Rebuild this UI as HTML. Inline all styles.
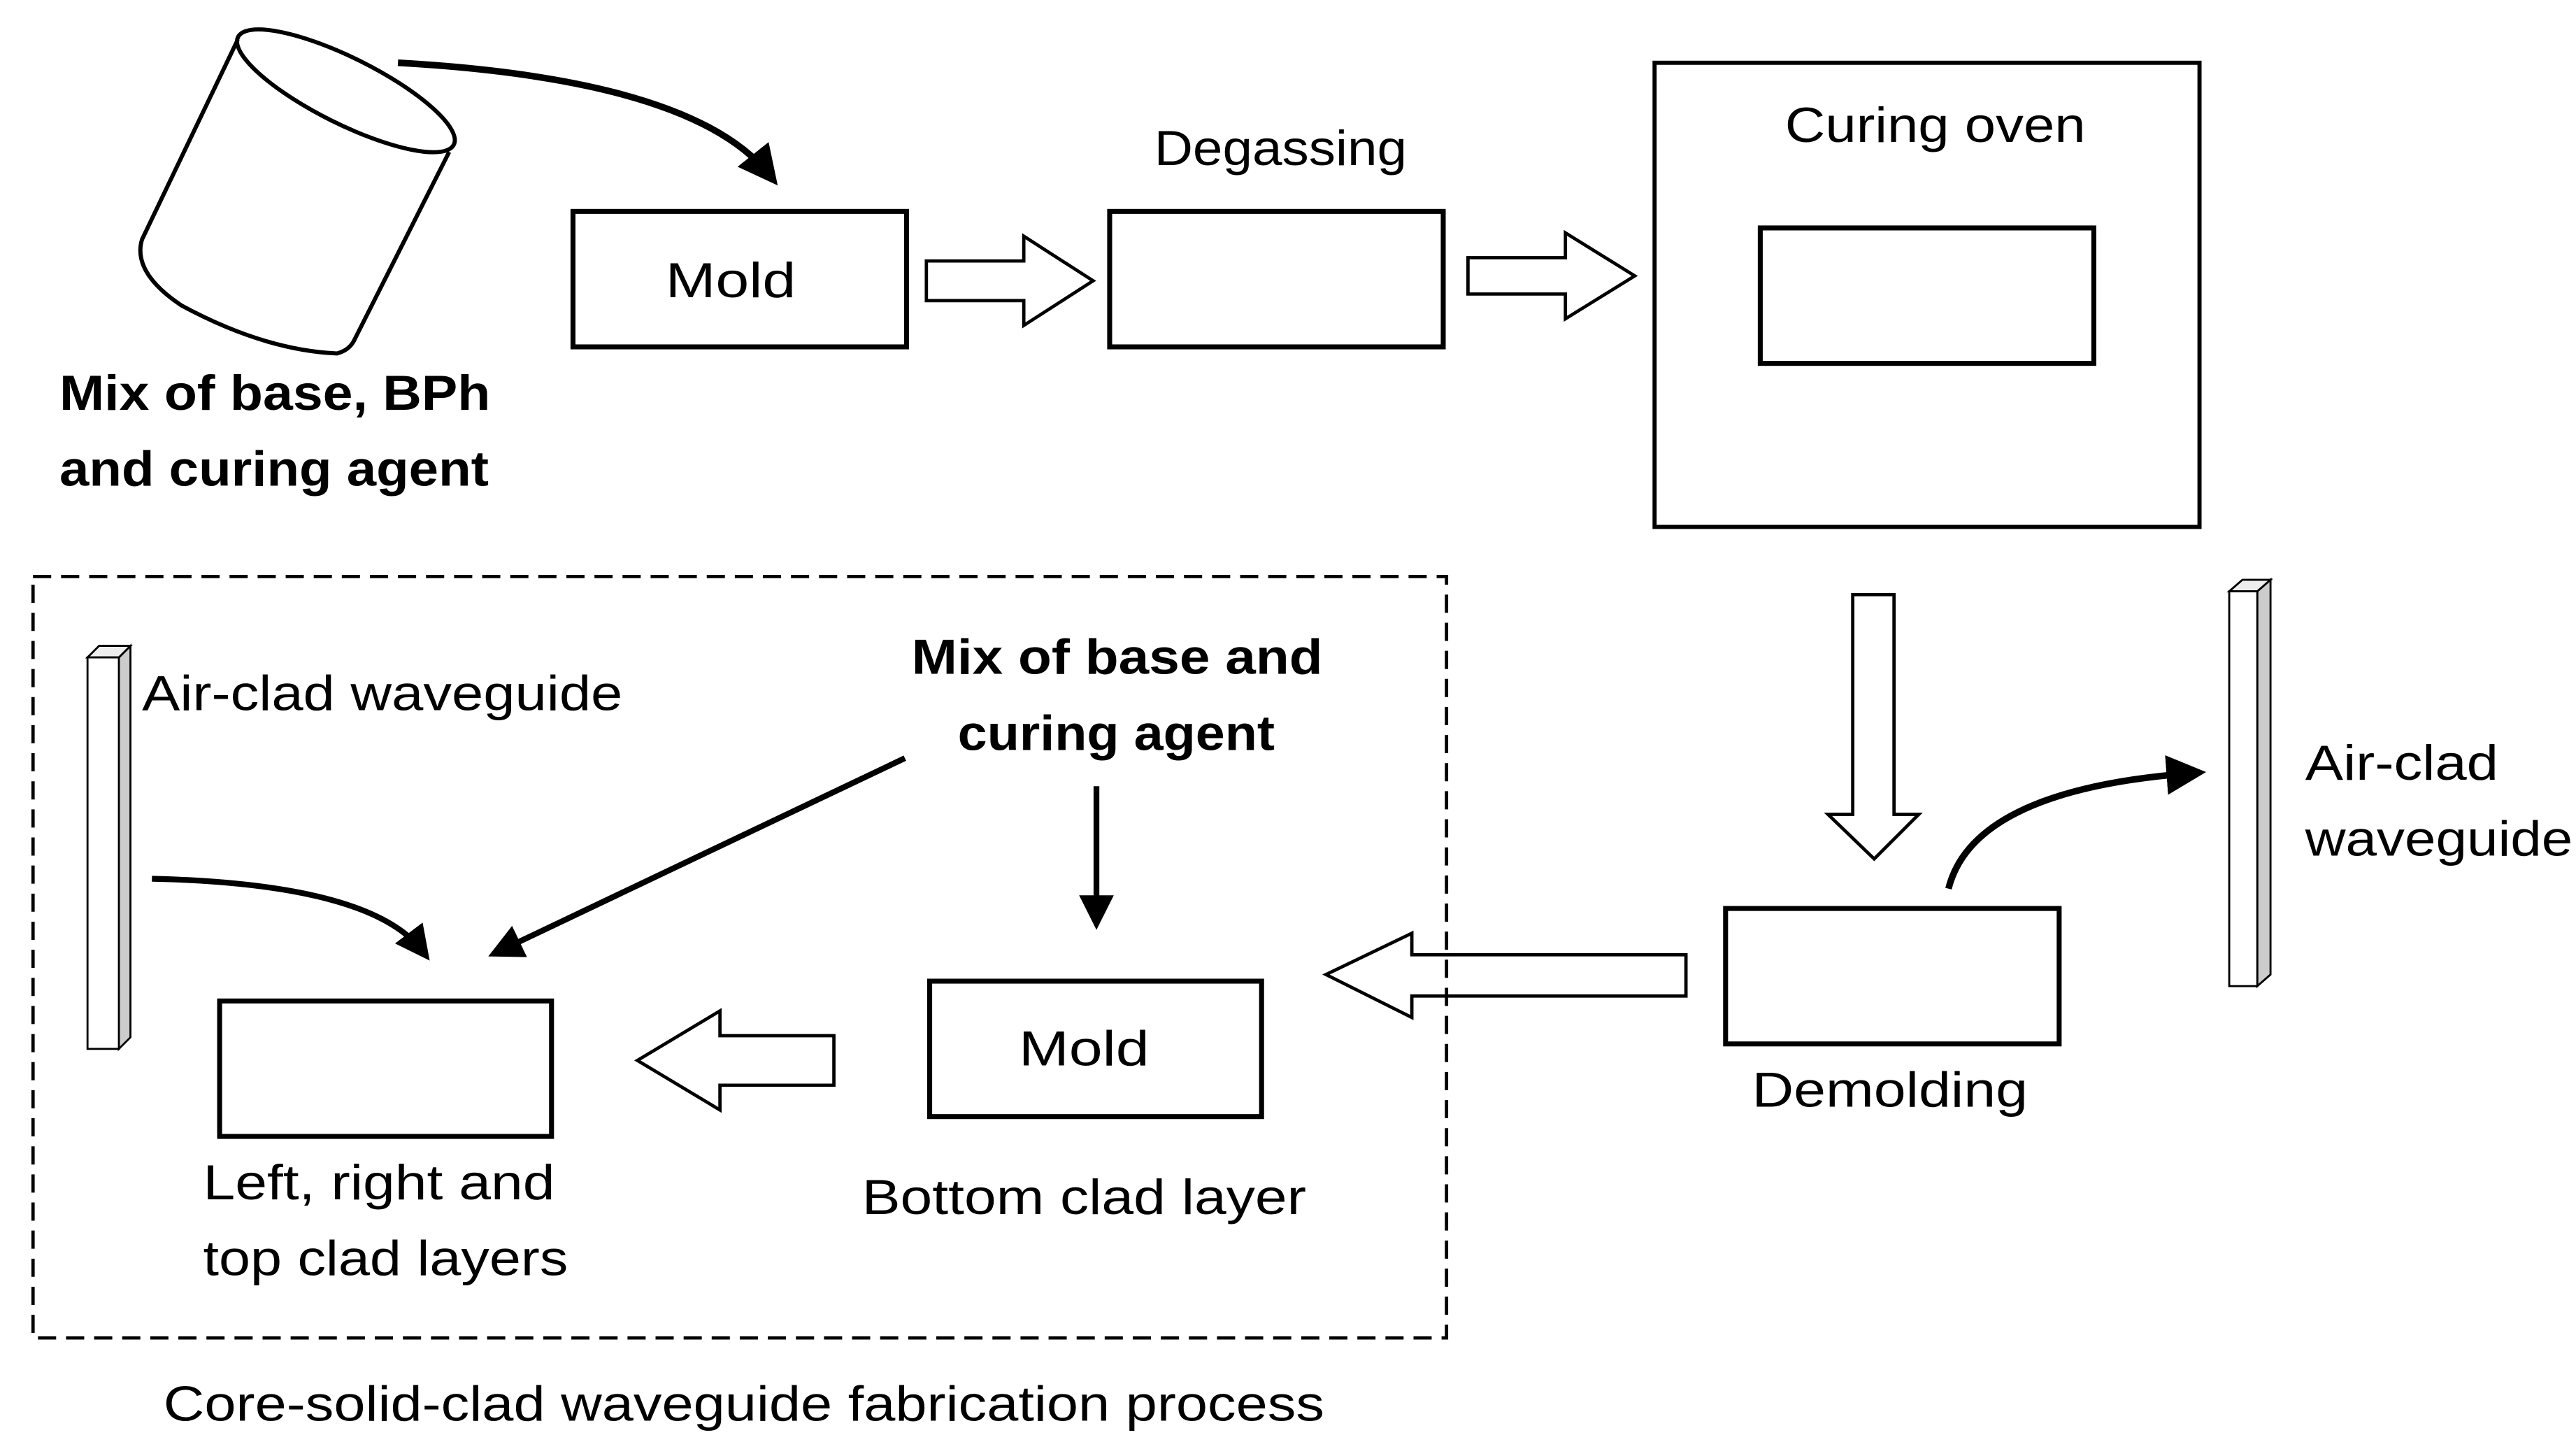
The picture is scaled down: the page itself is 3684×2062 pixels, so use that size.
<!DOCTYPE html>
<html><head><meta charset="utf-8"><style>html,body{margin:0;padding:0;background:#fff}svg{display:block}</style></head>
<body>
<svg width="3684" height="2062" viewBox="0 0 1560 873" preserveAspectRatio="none" xmlns="http://www.w3.org/2000/svg" font-family="Liberation Sans, sans-serif" font-size="30" fill="#000">
<defs>
<marker id="ah" markerWidth="6" markerHeight="6" refX="4" refY="3" orient="auto" markerUnits="strokeWidth"><path d="M0,0 L6,3 L0,6 Z" fill="#000"/></marker>
</defs>
<rect width="1560" height="873" fill="#fff"/>
<!-- cylinder -->
<path d="M144,24 L86,145 Q80,165 110,185 Q160,212 204,214 Q212,212 215,205 L272,92" fill="none" stroke="#000" stroke-width="2.5"/>
<ellipse cx="209.5" cy="55" rx="73" ry="20" transform="rotate(26.5 209.5 55)" fill="none" stroke="#000" stroke-width="2.5"/>
<path d="M241,38 Q420,48 466,106" fill="none" stroke="#000" stroke-width="4" marker-end="url(#ah)"/>
<text x="36" y="248" font-weight="bold" textLength="261" lengthAdjust="spacingAndGlyphs">Mix of base, BPh</text>
<text x="36" y="294" font-weight="bold" textLength="260" lengthAdjust="spacingAndGlyphs">and curing agent</text>
<!-- top row -->
<rect x="347" y="128" width="202" height="82" fill="none" stroke="#000" stroke-width="3"/>
<text x="403" y="180" textLength="79" lengthAdjust="spacingAndGlyphs">Mold</text>
<path d="M561,158 L620,158 L620,143 L662,170 L620,197 L620,182 L561,182 Z" fill="#fff" stroke="#000" stroke-width="2"/>
<rect x="672" y="128" width="202" height="82" fill="none" stroke="#000" stroke-width="3"/>
<text x="699" y="100" textLength="153" lengthAdjust="spacingAndGlyphs">Degassing</text>
<path d="M889,156 L948,156 L948,141 L990,167 L948,193 L948,178 L889,178 Z" fill="#fff" stroke="#000" stroke-width="2"/>
<rect x="1002" y="38" width="330" height="281" fill="none" stroke="#000" stroke-width="2.5"/>
<rect x="1066" y="138" width="202" height="82" fill="none" stroke="#000" stroke-width="3"/>
<text x="1081" y="86" textLength="182" lengthAdjust="spacingAndGlyphs">Curing oven</text>
<!-- right column -->
<path d="M1122,360 L1147,360 L1147,493 L1162,493 L1135,520 L1107,493 L1122,493 Z" fill="#fff" stroke="#000" stroke-width="2"/>
<rect x="1045" y="550" width="202" height="82" fill="none" stroke="#000" stroke-width="3"/>
<text x="1061" y="670" textLength="167" lengthAdjust="spacingAndGlyphs">Demolding</text>
<path d="M1180,538 Q1195,478 1328,468" fill="none" stroke="#000" stroke-width="4" marker-end="url(#ah)"/>
<path d="M1367,358 L1375,351 L1375,590 L1367,597 Z" fill="#ccc" stroke="#000" stroke-width="1.2"/>
<path d="M1350,358 L1358,351 L1375,351 L1367,358 Z" fill="#eee" stroke="#000" stroke-width="1.2"/>
<rect x="1350" y="358" width="17" height="239" fill="#fff" stroke="#000" stroke-width="1.2"/>
<text x="1396" y="472" textLength="117" lengthAdjust="spacingAndGlyphs">Air-clad</text>
<text x="1396" y="518" textLength="162" lengthAdjust="spacingAndGlyphs">waveguide</text>
<path d="M1021,578 L855,578 L855,565 L803,590 L855,616 L855,603 L1021,603 Z" fill="#fff" stroke="#000" stroke-width="2"/>
<!-- dashed region -->
<rect x="20" y="349" width="856" height="461" fill="none" stroke="#000" stroke-width="2" stroke-dasharray="11,6"/>
<text x="99" y="860" textLength="703" lengthAdjust="spacingAndGlyphs">Core-solid-clad waveguide fabrication process</text>
<path d="M72,398 L79,391 L79,628 L72,635 Z" fill="#ccc" stroke="#000" stroke-width="1.2"/>
<path d="M53,398 L60,391 L79,391 L72,398 Z" fill="#eee" stroke="#000" stroke-width="1.2"/>
<rect x="53" y="398" width="19" height="237" fill="#fff" stroke="#000" stroke-width="1.2"/>
<text x="86" y="430" textLength="291" lengthAdjust="spacingAndGlyphs">Air-clad waveguide</text>
<text x="552" y="408" font-weight="bold" textLength="249" lengthAdjust="spacingAndGlyphs">Mix of base and</text>
<text x="580" y="454" font-weight="bold" textLength="192" lengthAdjust="spacingAndGlyphs">curing agent</text>
<path d="M664,476 L664,556" fill="none" stroke="#000" stroke-width="3.5" marker-end="url(#ah)"/>
<path d="M548,459 L302,576" fill="none" stroke="#000" stroke-width="3.5" marker-end="url(#ah)"/>
<path d="M92,532 Q225,535 256,576" fill="none" stroke="#000" stroke-width="3.5" marker-end="url(#ah)"/>
<rect x="563" y="594" width="201" height="82" fill="none" stroke="#000" stroke-width="3"/>
<text x="617" y="645" textLength="79" lengthAdjust="spacingAndGlyphs">Mold</text>
<text x="522" y="735" textLength="269" lengthAdjust="spacingAndGlyphs">Bottom clad layer</text>
<rect x="133" y="606" width="201" height="82" fill="none" stroke="#000" stroke-width="3"/>
<text x="123" y="726" textLength="213" lengthAdjust="spacingAndGlyphs">Left, right and</text>
<text x="123" y="772" textLength="221" lengthAdjust="spacingAndGlyphs">top clad layers</text>
<path d="M505,627 L436,627 L436,612 L386,642 L436,672 L436,657 L505,657 Z" fill="#fff" stroke="#000" stroke-width="2"/>
</svg>
</body></html>
